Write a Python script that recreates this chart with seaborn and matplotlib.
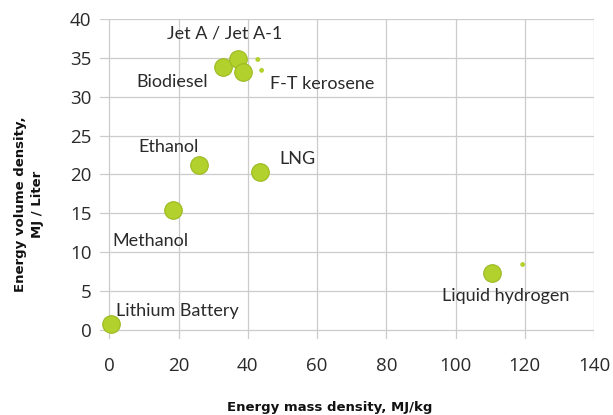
import matplotlib
matplotlib.use("Agg")
import matplotlib.pyplot as plt
import seaborn as sns
import pandas as pd

# Data
fuels = ["Lithium Battery", "Methanol", "Ethanol", "LNG", "Biodiesel",
         "Jet A / Jet A-1", "F-T kerosene", "Liquid hydrogen"]
mass_density = [0.5, 18.5, 25.9, 43.5, 32.8, 37.1, 38.6, 110.5]
volume_density = [0.7, 15.4, 21.2, 20.3, 33.8, 34.8, 33.2, 7.3]

small_x = [42.9, 44.0, 119.4]
small_y = [34.8, 33.4, 8.4]

label_x = [2.0, 11.8, 17.0, 49.2, 18.1, 33.4, 46.3, 114.5]
label_y = [2.4, 11.4, 23.5, 22.0, 31.9, 38.2, 31.6, 4.4]
label_ha = ["left", "center", "center", "left", "center", "center", "left", "center"]

x_ticks = [0, 20, 40, 60, 80, 100, 120, 140]
y_ticks = [0, 5, 10, 15, 20, 25, 30, 35, 40]

df = pd.DataFrame({"fuel": fuels, "mass": mass_density, "vol": volume_density})
df_small = pd.DataFrame({"mass": small_x, "vol": small_y})

sns.set_theme(style="white")
plt.rcParams["font.family"] = ["Lato", "DejaVu Sans"]

fig = plt.figure(figsize=(6.13, 4.15), dpi=100)
ax = fig.add_axes([0.163, 0.183, 0.806, 0.771])

green = "#b3d12c"
sns.scatterplot(data=df, x="mass", y="vol", s=160, color=green,
                edgecolor="#9aba22", linewidth=0.8, ax=ax, zorder=3)
sns.scatterplot(data=df_small, x="mass", y="vol", s=12, color=green,
                edgecolor="none", ax=ax, zorder=3)

for name, lx, ly, ha in zip(fuels, label_x, label_y, label_ha):
    ax.text(lx, ly, name, ha=ha, va="center", fontsize=13, color="#2a2a2a",
            zorder=4)

ax.set_xlim(-2.7, 140)
ax.set_ylim(-1.2, 40)
ax.set_xticks(x_ticks)
ax.set_yticks(y_ticks)
ax.grid(True, color="#cccccc", linewidth=0.9)
for s in ax.spines.values():
    s.set_visible(False)
ax.tick_params(axis="x", length=0, pad=13, labelsize=13.5, labelcolor="#2a2a2a")
ax.tick_params(axis="y", length=0, pad=6, labelsize=13.5, labelcolor="#2a2a2a")
for lab in ax.get_xticklabels() + ax.get_yticklabels():
    lab.set_family(["Open Sans", "DejaVu Sans"])

ax.set_xlabel("Energy mass density, MJ/kg", fontsize=9.5, fontweight="bold",
              family=["DejaVu Sans"], color="#111111")
ax.set_ylabel("Energy volume density,\nMJ / Liter", fontsize=9.5,
              fontweight="bold", family=["DejaVu Sans"], color="#111111",
              linespacing=1.45)
ax.xaxis.set_label_coords(0.466, -0.195)
ax.yaxis.set_label_coords(-0.113, 0.42)

fig.savefig("out.png", dpi=100)
